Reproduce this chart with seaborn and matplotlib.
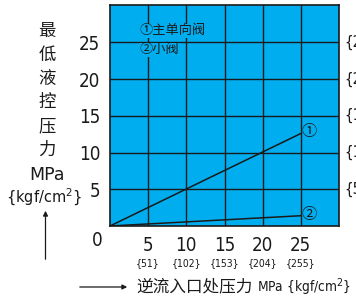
import matplotlib
matplotlib.use("Agg")
import matplotlib.pyplot as plt
import seaborn as sns
import pandas as pd

# data
x_ticks = [5, 10, 15, 20, 25]
y_ticks = [5, 10, 15, 20, 25]
x_kgf = ["{51}", "{102}", "{153}", "{204}", "{255}"]
y_kgf = ["{51}", "{102}", "{153}", "{204}", "{255}"]
inlet = [0, 25]
main_valve = [0, 12.6]
small_valve = [0, 1.4]
curve_labels = ["①", "②"]

sns.set_style("white")
plt.rcParams['font.family'] = ['Noto Sans CJK SC', 'DejaVu Sans']

W, H = 356, 304
fig = plt.figure(figsize=(W / 100, H / 100), dpi=100)
ax = fig.add_axes([110 / W, 1 - 226 / H, 229 / W, 221 / H])

blue = "#00AEEF"
ink = "#1a1a1a"
ax.set_facecolor(blue)
ax.set_xlim(0, 30)
ax.set_ylim(0, 30.1)

df = pd.DataFrame({"x": inlet * 2,
                   "y": main_valve + small_valve,
                   "curve": [curve_labels[0]] * 2 + [curve_labels[1]] * 2})
sns.lineplot(data=df, x="x", y="y", units="curve", estimator=None,
             color=ink, lw=1.1, ax=ax, legend=False)

for v in x_ticks:
    ax.axvline(v, color=ink, lw=1.0, zorder=1)
for v in y_ticks:
    ax.axhline(v, color=ink, lw=1.0, zorder=1)

for s in ax.spines.values():
    s.set_color(ink)
    s.set_linewidth(1.2)

cond = dict(family='DejaVu Sans', fontstretch='condensed')
ax.set_xticks(x_ticks)
ax.set_yticks(y_ticks)
ax.set_xticklabels([str(v) for v in x_ticks], fontsize=13.5, color=ink, **cond)
ax.set_yticklabels([str(v) for v in y_ticks], fontsize=13.5, color=ink, **cond)
ax.tick_params(length=0, pad=7)
ax.set_xlabel("")
ax.set_ylabel("")

# zero shared by both axes
fig.text(97 / W, 1 - 241 / H, "0", fontsize=13.5, color=ink,
         ha="center", va="center", **cond)

# kgf labels under x ticks
for v, lab in zip(x_ticks, x_kgf):
    ax.text(v, -0.17, lab, transform=ax.get_xaxis_transform(),
            fontsize=7.5, color=ink, ha="center", va="center", **cond)

# kgf labels right of axes (cut off by figure edge in the reference)
for v, lab in zip(y_ticks, y_kgf):
    ax.text(1.025, v, lab, transform=ax.get_yaxis_transform(),
            fontsize=11, color=ink, ha="left", va="center",
            clip_on=False, **cond)

# curve markers
ax.text(26.1, main_valve[1] + 0.3, curve_labels[0], fontsize=11, color=ink,
        ha="center", va="center")
ax.text(26.1, small_valve[1] + 0.15, curve_labels[1], fontsize=11, color=ink,
        ha="center", va="center")

# legend text
ax.text(3.85, 26.6, "①主单向阀", fontsize=9.5, color=ink, ha="left", va="center",
        bbox=dict(facecolor=blue, edgecolor="none", pad=0.5), zorder=3)
ax.text(3.85, 24.0, "②小阀", fontsize=9.5, color=ink, ha="left", va="center",
        bbox=dict(facecolor=blue, edgecolor="none", pad=0.5), zorder=3)

# y axis title, stacked
for i, ch in enumerate("最低液控压力"):
    fig.text(47 / W, 1 - (31 + i * 23.8) / H, ch, fontsize=12.5, color=ink,
             ha="center", va="center")
fig.text(47 / W, 1 - 175 / H, "MPa", family='DejaVu Sans', fontsize=12.5,
         color=ink, ha="center", va="center")
fig.text(44 / W, 1 - 197 / H, "{kgf/cm$^2$}", family='DejaVu Sans', fontsize=10.5,
         color=ink, ha="center", va="center")
fig.add_artist(matplotlib.patches.FancyArrowPatch(
    (45.5 / W, 1 - 262 / H), (45.5 / W, 1 - 208 / H), transform=fig.transFigure,
    arrowstyle="-|>", mutation_scale=7, color=ink, lw=0.9))

# x axis title
fig.add_artist(matplotlib.patches.FancyArrowPatch(
    (77 / W, 1 - 287 / H), (130 / W, 1 - 287 / H), transform=fig.transFigure,
    arrowstyle="-|>", mutation_scale=7, color=ink, lw=0.9))
fig.text(136 / W, 1 - 287 / H, "逆流入口处压力", fontsize=12,
         color=ink, ha="left", va="center")
fig.text(257 / W, 1 - 287 / H, "MPa {kgf/cm$^2$}", fontsize=9.8,
         color=ink, ha="left", va="center", **cond)

fig.savefig("out.png", dpi=100)
